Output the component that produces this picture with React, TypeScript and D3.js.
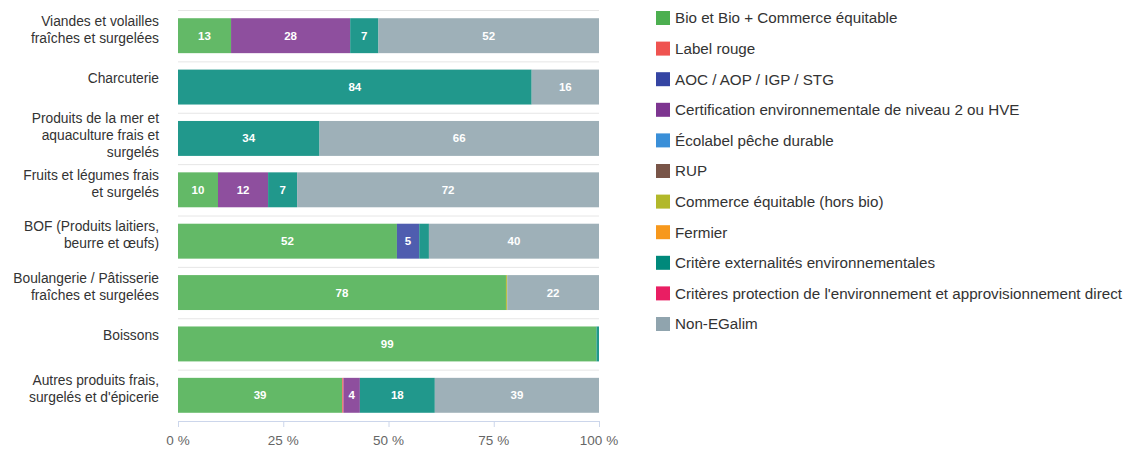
import React from "react";
import * as d3 from "d3";

const categories = [
  ["Viandes et volailles", "fraîches et surgelées"],
  ["Charcuterie"],
  ["Produits de la mer et", "aquaculture frais et", "surgelés"],
  ["Fruits et légumes frais", "et surgelés"],
  ["BOF (Produits laitiers,", "beurre et œufs)"],
  ["Boulangerie / Pâtisserie", "fraîches et surgelées"],
  ["Boissons"],
  ["Autres produits frais,", "surgelés et d'épicerie"],
];

const seriesNames = [
  "Bio et Bio + Commerce équitable",
  "Label rouge",
  "AOC / AOP / IGP / STG",
  "Certification environnementale de niveau 2 ou HVE",
  "Écolabel pêche durable",
  "RUP",
  "Commerce équitable (hors bio)",
  "Fermier",
  "Critère externalités environnementales",
  "Critères protection de l'environnement et approvisionnement direct",
  "Non-EGalim",
];

// values per series, one entry per category (percent)
const bio = [12.6, 0, 0, 9.5, 52, 77.9, 99.4, 39];
const labelRouge = [0, 0, 0, 0, 0, 0, 0, 0.3];
const aoc = [0, 0, 0, 0, 5.3, 0, 0, 0];
const hve = [28.3, 0, 0, 11.9, 0, 0, 0, 3.9];
const ecolabel = [0, 0, 0, 0, 0, 0, 0, 0];
const rup = [0, 0, 0, 0, 0, 0, 0, 0];
const commerce = [0, 0, 0, 0, 0, 0.3, 0, 0];
const fermier = [0, 0, 0, 0, 0, 0, 0, 0];
const externalites = [6.7, 84, 33.6, 6.9, 2.3, 0, 0.6, 17.8];
const protection = [0, 0, 0, 0, 0, 0, 0, 0];
const nonEgalim = [52.4, 16, 66.4, 71.7, 40.4, 21.8, 0, 39];

const seriesValues = [bio, labelRouge, aoc, hve, ecolabel, rup, commerce, fermier, externalites, protection, nonEgalim];

const xTicks = [0, 25, 50, 75, 100];

const colors = [
  "#4caf50", "#ef5350", "#3545a3", "#7d3590", "#3a8fd8", "#795548",
  "#b2b82a", "#f7981c", "#00897b", "#e91e63", "#90a4ae",
];

export default function App() {
  const width = 1133;
  const height = 450;
  const margin = { top: 10, left: 178, right: 534, bottom: 29 };
  const plotW = width - margin.left - margin.right;

  const x = d3.scaleLinear().domain([0, 100]).range([margin.left, margin.left + plotW]);
  const y = d3
    .scaleBand<number>()
    .domain(d3.range(categories.length))
    .range([margin.top, height - margin.bottom])
    .paddingInner(0.32)
    .paddingOuter(0.16);

  const rows = categories.map((_, i) => {
    const obj: Record<string, number> = {};
    seriesNames.forEach((s, j) => (obj[s] = seriesValues[j][i]));
    return obj;
  });
  const stacked = d3.stack<Record<string, number>>().keys(seriesNames)(rows);

  const step = y.step();
  const bottomY = height - margin.bottom;
  const font = "'Liberation Sans', Arial, sans-serif";

  return (
    <svg
      width={width}
      height={height}
      style={{ position: "absolute", left: 0, top: 0, background: "#fff" }}
      fontFamily={font}
    >
      {/* category separators */}
      {d3.range(categories.length).map((i) => (
        <line
          key={"g" + i}
          x1={margin.left}
          x2={margin.left + plotW}
          y1={margin.top + i * step + 0.5}
          y2={margin.top + i * step + 0.5}
          stroke="#e6e6e6"
        />
      ))}

      {/* bars */}
      {stacked.map((layer, j) =>
        layer.map((d, i) => {
          const w = x(d[1]) - x(d[0]);
          if (w <= 0) return null;
          return (
            <rect
              key={j + "-" + i}
              x={x(d[0])}
              y={y(i)}
              width={w}
              height={y.bandwidth()}
              fill={colors[j]}
              fillOpacity={0.87}
            />
          );
        })
      )}

      {/* data labels */}
      {stacked.map((layer, j) =>
        layer.map((d, i) => {
          const w = x(d[1]) - x(d[0]);
          if (w < 14) return null;
          return (
            <text
              key={"l" + j + "-" + i}
              x={(x(d[0]) + x(d[1])) / 2}
              y={(y(i) as number) + y.bandwidth() / 2}
              dy="0.35em"
              textAnchor="middle"
              fill="#fff"
              fontSize={11.5}
              fontWeight="bold"
            >
              {Math.round(d[1] - d[0])}
            </text>
          );
        })
      )}

      {/* category labels */}
      {categories.map((lines, i) => {
        const c = (y(i) as number) + y.bandwidth() / 2;
        const first = c - 9 - (lines.length - 1) * 5.75;
        return (
          <text key={"c" + i} textAnchor="end" fontSize={13.8} fill="#333">
            {lines.map((t, k) => (
              <tspan key={k} x={159} y={first + k * 17} dy="0.35em">
                {t}
              </tspan>
            ))}
          </text>
        );
      })}

      {/* x axis */}
      <line x1={margin.left} x2={margin.left + plotW} y1={bottomY + 0.5} y2={bottomY + 0.5} stroke="#ccd6eb" />
      {xTicks.map((t) => (
        <g key={"t" + t}>
          <line x1={x(t) + 0.5} x2={x(t) + 0.5} y1={bottomY} y2={bottomY + 6} stroke="#ccd6eb" />
          <text x={x(t)} y={bottomY + 24} textAnchor="middle" fontSize={13.5} fill="#666">
            {t} %
          </text>
        </g>
      ))}

      {/* legend */}
      {seriesNames.map((s, j) => {
        const cy = 18 + j * 30.6;
        return (
          <g key={"lg" + j}>
            <rect x={656} y={cy - 7} width={14} height={14} fill={colors[j]} />
            <text x={675} y={cy} dy="0.35em" fontSize={15.2} fill="#333">
              {s}
            </text>
          </g>
        );
      })}
    </svg>
  );
}
